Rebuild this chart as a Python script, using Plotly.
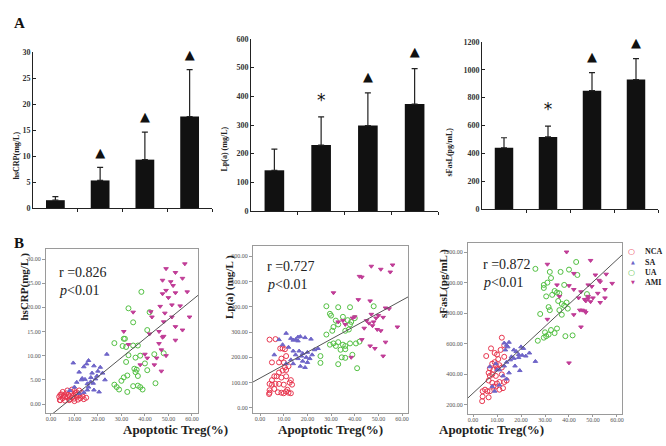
import plotly.graph_objects as go

# ---------------- DATA ----------------
groups = ["NCA", "SA", "UA", "AMI"]

hscrp_mean = [1.5, 5.3, 9.3, 17.6]
hscrp_sd = [0.7, 2.5, 5.3, 9.0]
hscrp_sig = ["", "▲", "▲", "▲"]

lpa_mean = [142, 230, 298, 373]
lpa_sd = [74, 98, 114, 124]
lpa_sig = ["", "*", "▲", "▲"]

sfasl_mean = [440, 518, 850, 930]
sfasl_sd = [72, 77, 130, 150]
sfasl_sig = ["", "*", "▲", "▲"]

# Panel B1: hsCRP vs apoptotic Treg
b1_nca_x = [3.5, 4, 4.5, 5, 5.5, 6, 6.5, 7, 7.5, 8, 8.5, 9, 9.5, 10, 10.5, 11, 11.5, 12, 12.5, 13, 14, 5, 7, 9, 10, 11, 8, 6, 4, 13.5, 12, 3.8, 9.8, 7.8, 10.8, 15]
b1_nca_y = [1.5, 0.8, 2.0, 1.2, 1.8, 0.7, 2.2, 1.4, 1.9, 1.0, 2.5, 1.3, 1.7, 0.6, 2.2, 1.5, 0.9, 1.8, 1.2, 2.3, 1.0, 2.5, 2.8, 3.0, 2.7, 2.4, 1.6, 1.5, 1.9, 1.6, 2.8, 0.8, 1.1, 0.8, 1.9, 1.3]
b1_sa_x = [9.5, 14, 15.2, 18.3, 23.8, 17.5, 13.3, 19.6, 16.9, 18.3, 15.5, 21, 12, 13, 14.5, 17, 19, 23, 11, 15.5, 16, 20.5, 14, 10, 12, 8, 18, 22, 16, 20]
b1_sa_y = [8.5, 7.7, 8.3, 7.9, 10.3, 6.4, 5.3, 5.8, 4.6, 2.9, 2.9, 7.6, 6.6, 5.0, 5.1, 5.5, 5.2, 5.0, 4.5, 4.2, 3.5, 2.5, 2.4, 3.5, 2.2, 2.8, 4.3, 6.4, 9.0, 6.8]
b1_ua_x = [38.5, 33, 42, 41, 35, 31, 31.5, 27, 30.5, 32, 35, 37, 33, 38, 44, 48, 36, 32, 40, 36.5, 35.5, 41, 37, 31, 32.5, 44.5, 27, 28, 29, 32.5, 35, 37, 38, 39, 36, 30]
b1_ua_y = [23.2, 19.8, 19.0, 15.3, 16.9, 13.5, 13.5, 12.6, 12.0, 11.8, 12.1, 12.1, 10.1, 10.0, 10.3, 10.5, 9.6, 8.7, 8.4, 7.1, 7.3, 7.0, 5.8, 5.5, 5.9, 4.3, 4.0, 3.5, 3.0, 2.5, 3.7, 3.8, 3.5, 3.0, 6.6, 4.8]
b1_ami_x = [57, 49, 53, 56, 47.5, 51, 52, 49, 53, 58, 47.5, 50, 51.5, 55, 46.5, 35, 42.5, 43, 59, 51.5, 48.5, 48, 53, 56, 46, 31, 42, 48, 47.5, 53, 33, 46, 40, 49, 47, 45, 41, 47, 38, 44]
b1_ami_y = [29.0, 28.0, 27.2, 26.0, 25.6, 25.3, 24.5, 23.5, 23.0, 23.2, 22.8, 22.0, 20.5, 20.3, 20.2, 19.0, 19.1, 18.0, 18.0, 18.0, 18.8, 17.0, 16.0, 15.3, 15.0, 15.0, 14.5, 14.0, 13.8, 13.2, 12.3, 12.5, 10.3, 10.0, 11.2, 9.5, 9.5, 6.8, 8.1, 8.1]

# Panel B2: Lp(a) vs apoptotic Treg
b2_nca_x = [4, 6.5, 8.5, 9.5, 10.5, 11, 9, 5, 8, 10, 12, 10.5, 11, 9.5, 8, 6, 7, 9, 11, 5, 13, 12.5, 4, 5, 6.5, 8, 10, 13.5, 4, 4, 6, 7.5, 9, 10, 11.5, 12, 13, 11, 3.8]
b2_nca_y = [270, 272, 235, 235, 232, 205, 195, 180, 180, 180, 165, 160, 150, 148, 140, 125, 125, 120, 125, 110, 110, 100, 95, 92, 95, 95, 92, 92, 70, 60, 75, 62, 60, 58, 72, 60, 58, 65, 55]
b2_sa_x = [11, 13, 15, 16, 17, 19, 21.5, 8, 14, 16, 9.5, 12, 14, 16.5, 18, 20, 23, 24.5, 15, 17.5, 19.5, 21, 22, 16, 18, 20, 13, 14, 17, 11, 6, 19]
b2_sa_y = [295, 275, 270, 280, 282, 278, 272, 270, 268, 265, 250, 240, 225, 225, 215, 220, 230, 235, 210, 205, 200, 195, 210, 195, 185, 180, 190, 175, 165, 175, 210, 160]
b2_ua_x = [28, 33, 38, 48, 29.5, 35, 37, 38.5, 40, 30, 31, 33, 30.5, 36, 38, 32, 29.5, 31, 32, 33, 35, 36, 38, 40.5, 42, 34, 36, 34.5, 36, 39, 33, 41, 25.5, 25.5, 28, 37.5]
b2_ua_y = [402, 398, 398, 402, 372, 360, 347, 340, 355, 365, 320, 330, 305, 305, 330, 345, 250, 255, 245, 260, 250, 245, 255, 255, 262, 230, 232, 200, 198, 210, 173, 157, 178, 205, 290, 310]
b2_ami_x = [47, 51, 55, 56, 42, 43, 31, 41.5, 46.5, 53, 54.5, 58, 47, 50, 49, 48, 46, 52, 45, 47.5, 49.5, 51, 44, 39, 40, 53, 43, 52, 46.5, 48.5, 38.5, 33, 35, 36]
b2_ami_y = [560, 548, 537, 565, 520, 517, 455, 428, 423, 395, 392, 320, 370, 365, 355, 340, 335, 358, 345, 325, 310, 305, 315, 355, 360, 260, 270, 205, 245, 235, 200, 340, 345, 330]

# Panel B3: sFasL vs apoptotic Treg
b3_nca_x = [12, 13, 11.5, 7.5, 5.5, 9, 10, 13, 10.5, 9, 8, 9.5, 11, 7, 8.5, 10, 12, 6.5, 8, 7, 9.5, 12, 14, 13, 11, 6.5, 8, 9.5, 10, 12.5, 5, 7, 6, 4, 4, 6.5, 3.8, 8.5, 11]
b3_nca_y = [640, 590, 560, 570, 520, 540, 530, 515, 500, 480, 470, 460, 460, 440, 430, 440, 445, 410, 400, 390, 390, 400, 360, 350, 350, 360, 345, 320, 340, 310, 300, 290, 290, 290, 255, 250, 225, 320, 300]
b3_sa_x = [13, 14, 15, 14.5, 13.5, 17, 18, 20, 21, 23.5, 19, 20.5, 16, 17, 15.5, 19, 22, 26, 14, 13, 17.5, 19.5, 15, 11, 7, 9.5, 10, 12.5, 9, 11, 14, 8]
b3_sa_y = [605, 590, 610, 580, 560, 560, 550, 580, 570, 540, 530, 525, 515, 505, 495, 510, 520, 485, 480, 455, 455, 425, 410, 430, 450, 470, 430, 390, 290, 330, 370, 320]
b3_ua_x = [26, 32, 36.5, 40, 43, 43.5, 29.5, 31, 29.5, 32.5, 34, 35, 36, 33, 38, 30.5, 31.5, 32, 35.5, 37, 38, 39, 39.5, 37, 28, 47.5, 30, 31.5, 32.5, 34, 35, 27, 29.5, 30.5, 38.5, 41.5, 36]
b3_ua_y = [1090, 1070, 1070, 1085, 1135, 1050, 985, 1000, 965, 1030, 945, 935, 930, 920, 985, 910, 840, 820, 880, 860, 850, 870, 830, 790, 795, 925, 675, 660, 690, 670, 700, 620, 640, 650, 650, 655, 820]
b3_ami_x = [39, 49, 31, 42, 51, 55.5, 52.5, 53, 58, 48, 49.5, 35, 40, 42, 55, 45, 48, 52, 46.5, 47, 48, 50, 49, 45.5, 46.5, 44.5, 47, 53, 55, 42, 31, 45, 40, 36, 44]
b3_ami_y = [1200, 1145, 1120, 1060, 1050, 1055, 1015, 1005, 995, 985, 975, 985, 980, 955, 955, 940, 910, 930, 890, 880, 895, 900, 875, 820, 815, 820, 805, 870, 900, 790, 760, 710, 475, 910, 900]

# Regression fits (intercept, slope)
b1_fit = (-2.3, 0.396)
b2_fit = (118, 5.13)
b3_fit = (277, 14.55)
r_texts = ["r =0.826", "r =0.727", "r =0.872"]
p_text = "<i>p</i>&lt;0.01"

# ---------------- FIGURE ----------------
W, H = 666, 446
def px(x): return x / W
def py(y): return 1 - y / H

SERIF = "Liberation Serif"
fig = go.Figure()

bar_panels = [
    (hscrp_mean, hscrp_sd, hscrp_sig, (33, 212), (52, 208), [0, 30], 5, "hsCRP(mg/L)", 10),
    (lpa_mean, lpa_sd, lpa_sig, (251, 438), (39, 211), [0, 600], 100, "Lp(a) (mg/L)", 224),
    (sfasl_mean, sfasl_sd, sfasl_sig, (482, 658), (42, 209), [0, 1200], 200, "sFasL(pg/mL)", 455),
]

layout = {}
for i, (m, sd, sig, xr, yr, rng, dt, title, tx) in enumerate(bar_panels):
    n = i + 1
    xa = "x" if n == 1 else f"x{n}"
    ya = "y" if n == 1 else f"y{n}"
    cats = list(range(len(groups)))
    fig.add_trace(go.Bar(
        x=cats, y=m, width=0.42, marker=dict(color="#111111", line=dict(width=0)),
        error_y=dict(type="data", symmetric=False, array=sd, arrayminus=[0] * len(sd),
                     color="#222222", thickness=1.2, width=3),
        xaxis=xa, yaxis=ya, showlegend=False, hoverinfo="skip"))
    off = (rng[1] - rng[0]) * 0.09
    fig.add_trace(go.Scatter(
        x=cats, y=[mm + s + off for mm, s in zip(m, sd)], text=sig, mode="text",
        textfont=dict(family="DejaVu Sans", size=[13 if t == "▲" else 17 for t in sig], color="#111"),
        xaxis=xa, yaxis=ya, showlegend=False, hoverinfo="skip", cliponaxis=False))
    layout[f"xaxis{'' if n == 1 else n}"] = dict(
        domain=[px(xr[0]), px(xr[1])], range=[-0.5, 3.5], anchor=ya, automargin=False,
        showline=True, linecolor="#222", linewidth=1, tickvals=[0.5, 1.5, 2.5, 3.5],
        ticktext=["", "", "", ""], ticks="outside", ticklen=3, tickcolor="#222",
        showgrid=False, zeroline=False, fixedrange=True)
    layout[f"yaxis{'' if n == 1 else n}"] = dict(
        domain=[py(yr[1]), py(yr[0])], range=rng, anchor=xa, dtick=dt, automargin=False,
        showline=True, linecolor="#222", linewidth=1, ticks="inside", ticklen=3,
        tickcolor="#222", tickfont=dict(family=SERIF, size=8, color="#333", weight="bold"),
        showgrid=False, zeroline=False, fixedrange=True)
    fig.add_annotation(text=f"<b>{title}</b>", xref="paper", yref="paper",
                       x=px(tx), y=py((yr[0] + yr[1]) / 2), textangle=-90,
                       showarrow=False, font=dict(family=SERIF, size=8, color="#222"))

colors = {"NCA": "#e8364f", "SA": "#6e64c8", "UA": "#52c042", "AMI": "#c03c96"}
symbols = {"NCA": "circle-open", "SA": "triangle-up", "UA": "circle-open", "AMI": "triangle-down"}
sizes = {"NCA": 5, "SA": 4, "UA": 5, "AMI": 4}
legend_glyphs = {"NCA": "○", "SA": "▲", "UA": "○", "AMI": "▼"}
legend_glyph_size = {"NCA": 8, "SA": 5, "UA": 8, "AMI": 5}

scatter_panels = [
    ([(b1_nca_x, b1_nca_y), (b1_sa_x, b1_sa_y), (b1_ua_x, b1_ua_y), (b1_ami_x, b1_ami_y)],
     b1_fit, (46, 198), (249, 413), [-2.1, 62.6], [-1.86, 32.07], 5, "hsCRP(mg/L )", 15, 57, 272),
    ([(b2_nca_x, b2_nca_y), (b2_sa_x, b2_sa_y), (b2_ua_x, b2_ua_y), (b2_ami_x, b2_ami_y)],
     b2_fit, (253, 408), (246, 413), [-3.0, 62.5], [-20, 640], 100, "Lp(a) (mg/L )", 221, 265, 266),
    ([(b3_nca_x, b3_nca_y), (b3_sa_x, b3_sa_y), (b3_ua_x, b3_ua_y), (b3_ami_x, b3_ami_y)],
     b3_fit, (468, 622), (243, 414), [-2.1, 62.1], [141, 1259], 200, "sFasL(pg/mL )", 443, 481, 264),
]

for j, (pts, fit, xr, yr, xrng, yrng, dt, title, tx, ax_, ay_) in enumerate(scatter_panels):
    n = j + 4
    xa, ya = f"x{n}", f"y{n}"
    for g, (gx, gy) in zip(groups, pts):
        fig.add_trace(go.Scatter(
            x=gx, y=gy, mode="markers", name=g, showlegend=False,
            marker=dict(symbol=symbols[g], size=sizes[g], color=colors[g],
                        line=dict(color=colors[g], width=1)),
            xaxis=xa, yaxis=ya, hoverinfo="skip"))
    lx = [xrng[0] - 5, xrng[1] + 5]
    fig.add_trace(go.Scatter(
        x=lx, y=[fit[0] + fit[1] * v for v in lx], mode="lines",
        line=dict(color="#555", width=1), xaxis=xa, yaxis=ya, showlegend=False, hoverinfo="skip"))
    layout[f"xaxis{n}"] = dict(
        domain=[px(xr[0]), px(xr[1])], range=xrng, anchor=ya, dtick=10, tickformat=".2f",
        automargin=False, ticklabelstandoff=-2,
        showline=True, mirror=True, linecolor="#9a9a9a", linewidth=1, ticks="outside",
        ticklen=2, tickcolor="#9a9a9a", tickfont=dict(family=SERIF, size=6, color="#555"),
        showgrid=False, zeroline=False, fixedrange=True)
    layout[f"yaxis{n}"] = dict(
        domain=[py(yr[1]), py(yr[0])], range=yrng, anchor=xa, dtick=dt, tickformat=".2f",
        automargin=False,
        showline=True, mirror=True, linecolor="#9a9a9a", linewidth=1, ticks="outside",
        ticklen=3, tickcolor="#9a9a9a", tickfont=dict(family=SERIF, size=6, color="#555"),
        showgrid=False, zeroline=False, fixedrange=True)
    fig.add_annotation(text="<b>Apoptotic Treg(%)</b>", xref="paper", yref="paper",
                       x=px((xr[0] + xr[1]) / 2), y=py(437.5), showarrow=False, borderpad=0,
                       font=dict(family=SERIF, size=13, color="#222"))
    fig.add_annotation(text=f"<b>{title}</b>", xref="paper", yref="paper",
                       x=px(tx), y=py((yr[0] + yr[1]) / 2 - 8), textangle=-90, showarrow=False,
                       font=dict(family=SERIF, size=11, color="#222"))
    fig.add_annotation(text=r_texts[j], xref="paper", yref="paper", x=px(ax_), y=py(ay_),
                       xanchor="left", showarrow=False, font=dict(family=SERIF, size=14, color="#222"))
    fig.add_annotation(text=p_text, xref="paper", yref="paper", x=px(ax_), y=py(ay_ + 18),
                       xanchor="left", showarrow=False, font=dict(family=SERIF, size=14, color="#222"))

# Legend (glyph + label), drawn as text
for k, g in enumerate(groups):
    yy = 252 + 10 * k
    fig.add_annotation(text=legend_glyphs[g], xref="paper", yref="paper", x=px(637), y=py(yy),
                       showarrow=False, font=dict(family="DejaVu Sans", size=legend_glyph_size[g],
                                                  color=colors[g]))
    fig.add_annotation(text=f"<b>{g}</b>", xref="paper", yref="paper", x=px(643), y=py(yy),
                       xanchor="left", showarrow=False, font=dict(family=SERIF, size=8, color="#222"))

fig.add_annotation(text="<b>A</b>", xref="paper", yref="paper", x=px(12), y=py(13),
                   showarrow=False, font=dict(family=SERIF, size=15, color="#111"))
fig.add_annotation(text="<b>B</b>", xref="paper", yref="paper", x=px(12), y=py(243),
                   showarrow=False, font=dict(family=SERIF, size=15, color="#111"))

fig.update_layout(
    width=W, height=H, margin=dict(l=0, r=0, t=0, b=0),
    paper_bgcolor="white", plot_bgcolor="white", showlegend=False,
    **layout)
fig.write_html("out.html", config={"displayModeBar": False},
               post_script="document.body.style.margin='0';document.body.style.padding='0';"
                           "document.body.style.overflow='hidden';")
